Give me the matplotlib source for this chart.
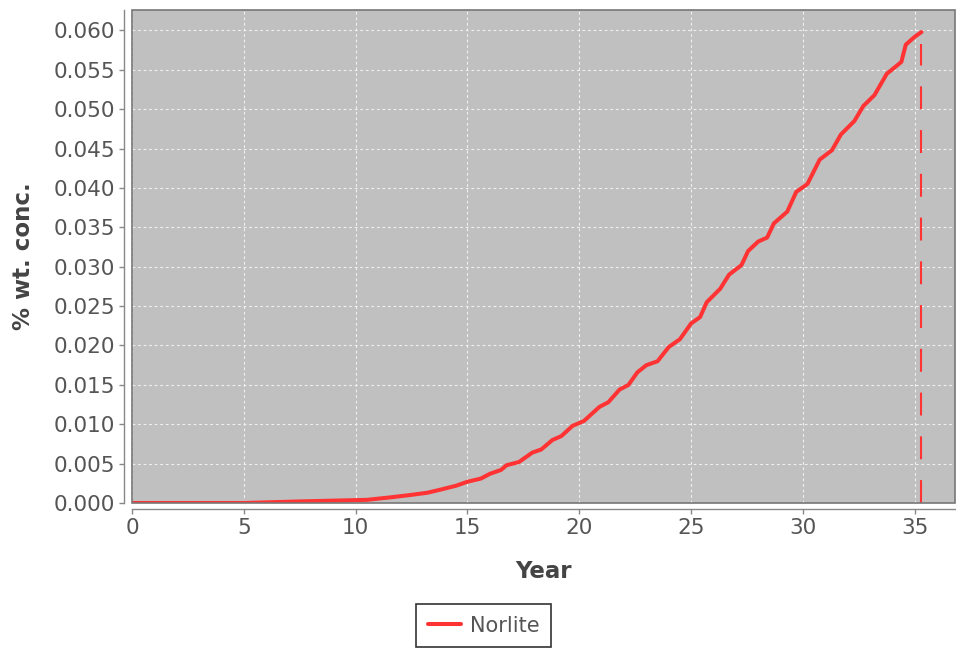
import matplotlib
matplotlib.use("Agg")
import matplotlib.pyplot as plt
from matplotlib.patches import Rectangle

# year, % wt. conc.
years = [0.0, 5.0, 7.5, 10.5, 11.5, 12.4, 13.2, 13.8, 14.5, 15.0, 15.6, 16.0,
         16.5, 16.75, 17.3, 17.9, 18.3, 18.8, 19.2, 19.7, 20.2, 20.9, 21.3,
         21.8, 22.2, 22.6, 23.0, 23.5, 24.0, 24.5, 25.0, 25.4, 25.7, 26.3,
         26.7, 27.25, 27.55, 28.0, 28.4, 28.7, 29.3, 29.7, 30.2, 30.75, 31.3,
         31.7, 32.3, 32.7, 33.2, 33.75, 34.4, 34.6, 35.0, 35.3]
conc = [0.0, 0.0, 0.0002, 0.0004, 0.0007, 0.0010, 0.0013, 0.0017, 0.0022,
        0.0027, 0.0031, 0.0037, 0.0042, 0.0048, 0.0052, 0.0064, 0.0068,
        0.0080, 0.0085, 0.0098, 0.0104, 0.0122, 0.0128, 0.0144, 0.0150,
        0.0166, 0.0175, 0.0180, 0.0198, 0.0208, 0.0228, 0.0236, 0.0255,
        0.0272, 0.0290, 0.0302, 0.0320, 0.0332, 0.0337, 0.0355, 0.0370,
        0.0395, 0.0405, 0.0436, 0.0448, 0.0468, 0.0485, 0.0504, 0.0518,
        0.0545, 0.0560, 0.0582, 0.0592, 0.0598]
series_name = "Norlite"
end_year = 35.3
x_ticks = [0, 5, 10, 15, 20, 25, 30, 35]
y_ticks = [i * 0.005 for i in range(13)]

W, H = 956, 648
fig = plt.figure(figsize=(W / 100, H / 100), dpi=100)
ax = fig.add_axes([132 / W, 1 - 503 / H, (955 - 132) / W, (503 - 10) / H])
ax.set_facecolor("#c0c0c0")

ax.plot(years, conc, color="#ff3333", lw=2.9, solid_capstyle="round",
        solid_joinstyle="round", label=series_name, zorder=3)
ax.vlines(end_year, 0, 0.0583, color="#ff3333", lw=1.5,
          linestyles=[(0, (11, 10))], zorder=3)

ax.set_xlim(0, 36.8)
ax.set_ylim(0, 0.0626)
ax.set_xticks(x_ticks)
ax.set_yticks(y_ticks)
ax.set_yticklabels([f"{v:.3f}" for v in y_ticks])

ax.grid(True, color="#f0f0f0", lw=0.8, linestyle=(0, (2.5, 2.5)))
ax.set_axisbelow(True)

for s in ["top", "right"]:
    ax.spines[s].set_visible(False)
ax.spines["left"].set_position(("outward", 5.8))
ax.spines["bottom"].set_position(("outward", 4.3))
for s in ["left", "bottom"]:
    ax.spines[s].set_color("#888888")
    ax.spines[s].set_linewidth(1.0)
ax.add_patch(Rectangle((0, 0), 1, 1, transform=ax.transAxes, fill=False,
                       edgecolor="#777777", lw=1.2, clip_on=False, zorder=4))

ax.tick_params(direction="out", length=3.5, width=1, color="#888888",
               labelcolor="#555555", labelsize=15.5, pad=3)

ax.set_xlabel("Year", fontsize=16.5, fontweight="bold", color="#444444",
              labelpad=16)
ax.set_ylabel("% wt. conc.", fontsize=16.5, fontweight="bold",
              color="#444444", labelpad=13)

leg = fig.legend(loc="center", bbox_to_anchor=(483.5 / W, 1 - 625.5 / H),
                 fontsize=15, frameon=True, fancybox=False,
                 handlelength=1.6, handletextpad=0.4, borderpad=0.55,
                 borderaxespad=0)
leg.get_frame().set_edgecolor("black")
leg.get_frame().set_linewidth(1.2)
for t in leg.get_texts():
    t.set_color("#555555")

fig.savefig("out.png", dpi=100)
